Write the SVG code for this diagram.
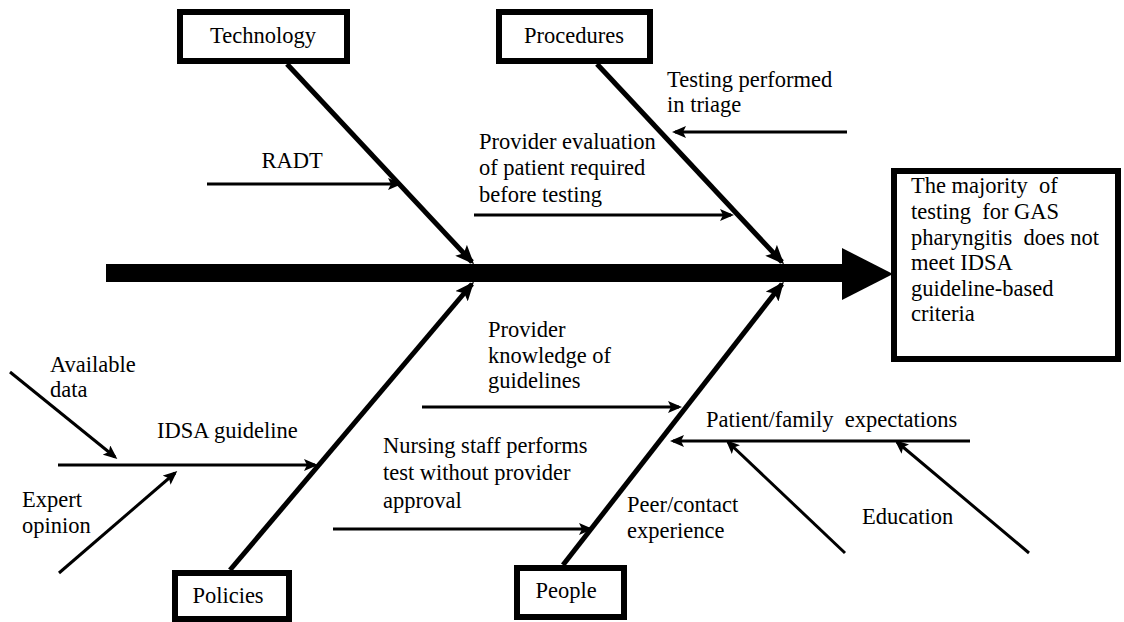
<svg xmlns="http://www.w3.org/2000/svg" width="1124" height="622" viewBox="0 0 1124 622">
<style>
text{font-family:"Liberation Serif","Times New Roman",serif;font-size:22.5px;fill:#000;white-space:pre}
.box{fill:#fff;stroke:#000;stroke-width:6}
.bone{stroke:#000;stroke-width:5;fill:none;marker-end:url(#big)}
.sub{stroke:#000;stroke-width:3;fill:none;marker-end:url(#small)}
.c{text-anchor:middle}
</style>
<defs>
<marker id="big" markerUnits="userSpaceOnUse" markerWidth="20" markerHeight="16" refX="16" refY="8" orient="auto">
<path d="M0,0 L19,8 L0,16 L4,8 Z" fill="#000"/>
</marker>
<marker id="small" markerUnits="userSpaceOnUse" markerWidth="14" markerHeight="12" refX="11" refY="6" orient="auto">
<path d="M0,0 L14,6 L0,12 L3,6 Z" fill="#000"/>
</marker>
</defs>
<rect width="1124" height="622" fill="#fff"/>
<g id="connectors">
<rect x="106" y="264" width="737" height="18" fill="#000"/>
<path d="M842,248 L893,274 L842,300 Z" fill="#000"/>
<line class="bone" x1="287" y1="64" x2="472" y2="262"/>
<line class="bone" x1="597" y1="64" x2="782" y2="262"/>
<line class="bone" x1="230" y1="570" x2="472" y2="284"/>
<line class="bone" x1="563" y1="565" x2="782" y2="284"/>
<line class="sub" x1="207" y1="184" x2="399" y2="184"/>
<line class="sub" x1="847" y1="132" x2="675" y2="132"/>
<line class="sub" x1="474" y1="215" x2="731" y2="215"/>
<line class="sub" x1="58" y1="465" x2="315" y2="465"/>
<line class="sub" x1="10" y1="372" x2="115" y2="457"/>
<line class="sub" x1="59" y1="573" x2="175" y2="473"/>
<line class="sub" x1="422" y1="407" x2="679" y2="407"/>
<line class="sub" x1="333" y1="529" x2="590" y2="529"/>
<line class="sub" x1="970" y1="441" x2="673" y2="441"/>
<line class="sub" x1="845" y1="553" x2="728" y2="442"/>
<line class="sub" x1="1029" y1="553" x2="897" y2="442"/>
</g>
<g id="effect">
<rect class="box" x="894" y="171" width="224" height="188"/>
<text x="911" y="193">The majority  of</text>
<text x="911" y="219">testing  for GAS</text>
<text x="911" y="245">pharyngitis  does not</text>
<text x="911" y="270">meet IDSA</text>
<text x="911" y="296">guideline-based</text>
<text x="911" y="321">criteria</text>
</g>
<g id="technology">
<rect class="box" x="180" y="12" width="167" height="49"/>
<text class="c" x="263" y="43">Technology</text>
</g>
<g id="procedures">
<rect class="box" x="499" y="12" width="151" height="49"/>
<text class="c" x="574" y="43">Procedures</text>
</g>
<g id="policies">
<rect class="box" x="175" y="573" width="114" height="46"/>
<text class="c" x="228" y="603">Policies</text>
</g>
<g id="people">
<rect class="box" x="517" y="568" width="107" height="49"/>
<text class="c" x="566" y="598">People</text>
</g>
<g id="radt"><text class="c" x="292" y="168">RADT</text></g>
<g id="testing-triage">
<text x="667" y="87">Testing performed</text>
<text x="667" y="112">in triage</text>
</g>
<g id="provider-evaluation">
<text x="479" y="149">Provider evaluation</text>
<text x="479" y="175">of patient required</text>
<text x="479" y="202">before testing</text>
</g>
<g id="idsa-guideline"><text x="157" y="438">IDSA guideline</text></g>
<g id="available-data">
<text x="50" y="372">Available</text>
<text x="50" y="397">data</text>
</g>
<g id="expert-opinion">
<text x="22" y="507">Expert</text>
<text x="22" y="533">opinion</text>
</g>
<g id="provider-knowledge">
<text x="488" y="337">Provider</text>
<text x="488" y="363">knowledge of</text>
<text x="488" y="388">guidelines</text>
</g>
<g id="nursing-staff">
<text x="383" y="453">Nursing staff performs</text>
<text x="383" y="480">test without provider</text>
<text x="383" y="508">approval</text>
</g>
<g id="patient-family"><text x="706" y="427">Patient/family  expectations</text></g>
<g id="peer-contact">
<text x="627" y="512">Peer/contact</text>
<text x="627" y="538">experience</text>
</g>
<g id="education"><text x="862" y="524">Education</text></g>
</svg>
